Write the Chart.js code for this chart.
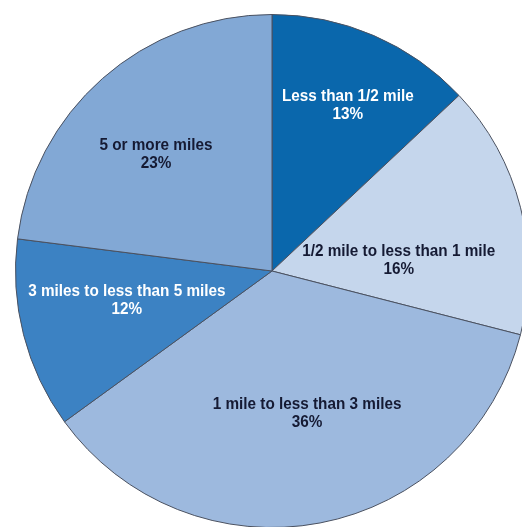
<!DOCTYPE html>
<html>
<head>
<meta charset="utf-8">
<script src="https://cdn.jsdelivr.net/npm/chart.js@4/dist/chart.umd.min.js"></script>
<style>
  html, body { margin: 0; padding: 0; background: #fff; overflow: hidden; width: 522px; height: 527px; }
  #wrap { position: absolute; left: 15px; top: 14px; width: 514px; height: 514px; }
</style>
</head>
<body>
<div id="wrap"><canvas id="canvas"></canvas></div>
<script>
"use strict";
var categories = ["Less than 1/2 mile", "1/2 mile to less than 1 mile", "1 mile to less than 3 miles", "3 miles to less than 5 miles", "5 or more miles"];
var shares = [13, 16, 36, 12, 23];
var sliceColors = ["#0a67ac", "#c5d6ec", "#9db9de", "#3c82c3", "#82a8d5"];
var labelColors = ["#ffffff", "#151a33", "#151a33", "#ffffff", "#151a33"];

// where each label sits: fraction of the radius and angle shift (degrees) from the slice middle
var labelRadius = [0.71, 0.496, 0.573, 0.577, 0.641];
var labelShift = [1.2, 9.4, -3, 3.1, -3.5];

var sliceLabels = {
  id: "sliceLabels",
  afterDatasetsDraw: function(chart) {
    var ctx = chart.ctx;
    var meta = chart.getDatasetMeta(0);
    meta.data.forEach(function(arc, i) {
      var p = arc.getProps(["x", "y", "startAngle", "endAngle", "outerRadius"], true);
      var mid = (p.startAngle + p.endAngle) / 2 + labelShift[i] * Math.PI / 180;
      var r = p.outerRadius * labelRadius[i];
      var x = p.x + Math.cos(mid) * r;
      var y = p.y + Math.sin(mid) * r;
      ctx.save();
      ctx.translate(x, y);
      ctx.scale(0.9, 1);   // squeeze to look like a narrow face
      ctx.font = "bold 17px 'Liberation Sans', Arial, sans-serif";
      ctx.textAlign = "center";
      ctx.textBaseline = "middle";
      ctx.fillStyle = labelColors[i];
      ctx.fillText(categories[i], 0, -9);
      ctx.fillText(shares[i] + "%", 0, 9);
      ctx.restore();
    });
  }
};

new Chart(document.getElementById("canvas"), {
  type: "pie",
  data: {
    labels: categories,
    datasets: [{
      data: shares,
      backgroundColor: sliceColors,
      borderColor: "#4a5160",
      borderWidth: 1
    }]
  },
  options: {
    responsive: true,
    maintainAspectRatio: false,
    animation: false,
    layout: { padding: 0 },
    plugins: {
      legend: { display: false },
      tooltip: { enabled: false }
    }
  },
  plugins: [sliceLabels]
});
</script>
</body>
</html>
